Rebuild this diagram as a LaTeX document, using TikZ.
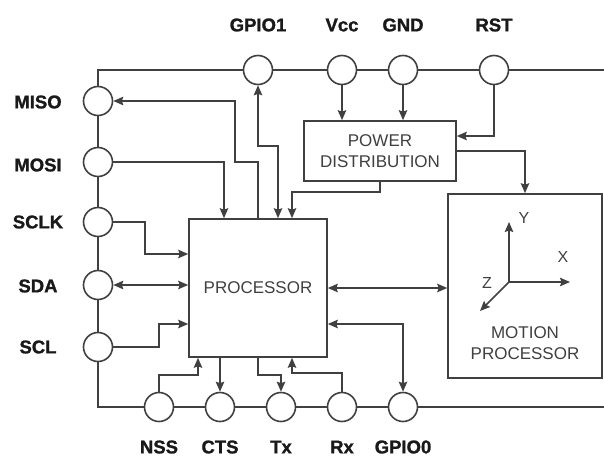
\documentclass[tikz,border=0pt]{standalone}
\usepackage{fontspec}
\setmainfont{Liberation Sans}
\newfontfamily\lblfont{Liberation Sans Bold}[FakeBold=1.2]
\usetikzlibrary{arrows.meta}
\begin{document}
\begin{tikzpicture}[x=1pt,y=-1pt,
  wire/.style={draw=black!75,line width=1.6pt},
  arr/.style={wire,-{Stealth[length=10pt,width=8.5pt,inset=1.5pt]}},
  barr/.style={wire,{Stealth[length=10pt,width=8.5pt,inset=1.5pt]}-{Stealth[length=10pt,width=8.5pt,inset=1.5pt]}},
  pin/.style={circle,draw=black!75,line width=1.6pt,fill=white,minimum size=29pt,inner sep=0pt},
  blk/.style={draw=black!75,line width=1.6pt,fill=white,inner sep=0pt,align=center,text=black!75,font=\fontsize{17}{21}\selectfont},
  lbl/.style={font=\fontsize{18.5}{20}\lblfont,text=black!90,inner sep=0pt},
  axl/.style={font=\fontsize{16}{18}\selectfont,text=black!75,inner sep=0pt}]
\useasboundingbox (0,0) rectangle (604,460);
% outer frame
\draw[wire] (604,70) -- (98,70) -- (98,407) -- (604,407);
% blocks
\node[blk,minimum width=138pt,minimum height=138pt] (proc) at (258,288) {PROCESSOR};
\node[blk,minimum width=152pt,minimum height=60pt] (power) at (380,151) {POWER\\DISTRIBUTION};
\node[blk,minimum width=154pt,minimum height=184pt] (motion) at (525,286) {};
\node[blk,draw=none,fill=none] (mtext) at (525,343) {MOTION\\PROCESSOR};
% pins
\node[pin] (g1) at (258,70) {};
\node[pin] (vcc) at (342,70) {};
\node[pin] (gnd) at (403,70) {};
\node[pin] (rst) at (494,70) {};
\node[pin] (miso) at (98,101) {};
\node[pin] (mosi) at (98,162) {};
\node[pin] (sclk) at (98,222) {};
\node[pin] (sda) at (98,285) {};
\node[pin] (scl) at (98,347) {};
\node[pin] (nss) at (159,407) {};
\node[pin] (cts) at (220,407) {};
\node[pin] (tx) at (281,407) {};
\node[pin] (rx) at (342,407) {};
\node[pin] (g0) at (403,407) {};
% labels
\node[lbl] (lg1) at (258,25) {GPIO1};
\node[lbl] (lvcc) at (342,25) {Vcc};
\node[lbl] (lgnd) at (403,25) {GND};
\node[lbl] (lrst) at (494,25) {RST};
\node[lbl] (lmiso) at (38,102) {MISO};
\node[lbl] (lmosi) at (38,165) {MOSI};
\node[lbl] (lsclk) at (38,222) {SCLK};
\node[lbl] (lsda) at (38,286) {SDA};
\node[lbl] (lscl) at (38,347) {SCL};
\node[lbl] (lnss) at (159,447) {NSS};
\node[lbl] (lcts) at (220,447) {CTS};
\node[lbl] (ltx) at (281,447) {Tx};
\node[lbl] (lrx) at (342,447) {Rx};
\node[lbl] (lg0) at (403,447) {GPIO0};
% power connections
\draw[arr] (vcc.south) -- (vcc |- power.north);
\draw[arr] (gnd.south) -- (gnd |- power.north);
\draw[arr] (rst.south) |- (power.east |- 0,136);
\draw[arr] (power.east) -| (motion.north);
\draw[arr] (power.south) -- (380,192) -| (proc.north -| 292,0);
% top side
\draw[barr] (g1.south) -- (258,146) -- (278,146) -- (proc.north -| 278,0);
\draw[arr] (proc.north) |- (235,162) |- (miso.east);
\draw[arr] (mosi.east) -| (proc.north -| 224,0);
% left side
\draw[arr] (sclk.east) -- (145,222) |- (proc.west |- 0,254);
\draw[barr] (sda.east) -- (proc.west |- sda.east);
\draw[arr] (scl.east) -- (159,347) |- (proc.west |- 0,324);
% bottom side
\draw[arr] (nss.north) |- (198,375) -- (proc.south -| 198,0);
\draw[arr] (proc.south -| cts) -- (cts.north);
\draw[arr] (proc.south) -- (258,375) -| (tx.north);
\draw[arr] (rx.north) |- (292,373) -- (proc.south -| 292,0);
\draw[barr] (proc.east |- 0,324) -| (g0.north);
% processor <-> motion
\draw[barr] (proc.east) -- (motion.west |- proc.east);
% axes
\coordinate (o) at (509,282);
\draw[arr] (o) -- (509,222);
\draw[arr] (o) -- (570,282);
\draw[arr] (o) -- (480,311);
\node[axl] (ay) at (524,218) {Y};
\node[axl] (ax) at (563,257) {X};
\node[axl] (az) at (487,283) {Z};
\end{tikzpicture}
\end{document}
